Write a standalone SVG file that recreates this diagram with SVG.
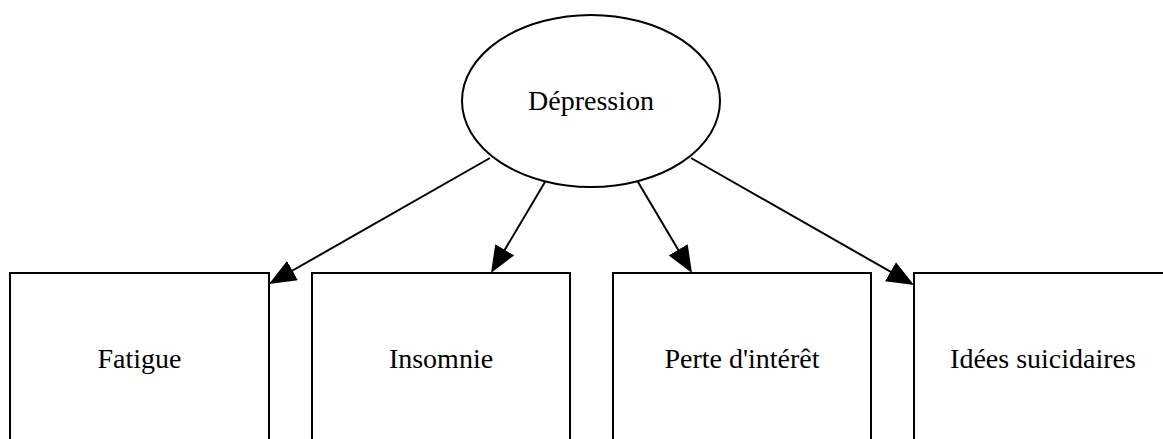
<svg xmlns="http://www.w3.org/2000/svg" width="1163" height="439" viewBox="0 0 1163 439">
<style>
.shape{fill:#fff;stroke:#000;stroke-width:2}
.edge{fill:none;stroke:#000;stroke-width:2}
.lbl{font-family:"Liberation Serif","Times New Roman",serif;font-size:28px;fill:#000;text-anchor:middle}
</style>
<defs>
<marker id="arr" markerUnits="userSpaceOnUse" markerWidth="28" markerHeight="24" refX="17" refY="11" orient="auto">
<path d="M0,0 L27,11 L0,22 z" fill="#000"/>
</marker>
</defs>
<rect width="1163" height="439" fill="#fff"/>
<g id="depression">
<ellipse class="shape" cx="591" cy="101" rx="129" ry="86"/>
<text class="lbl" x="591" y="110">Dépression</text>
</g>
<g id="fatigue">
<rect class="shape" x="10" y="273" width="259" height="200"/>
<text class="lbl" x="139.5" y="368">Fatigue</text>
</g>
<g id="insomnie">
<rect class="shape" x="312" y="273" width="258" height="200"/>
<text class="lbl" x="441" y="368">Insomnie</text>
</g>
<g id="perte">
<rect class="shape" x="613" y="273" width="258" height="200"/>
<text class="lbl" x="742" y="368">Perte d'intérêt</text>
</g>
<g id="idees">
<rect class="shape" x="914" y="273" width="259" height="200"/>
<text class="lbl" x="1043" y="368">Idées suicidaires</text>
</g>
<g id="connectors">
<line class="edge" x1="490" y1="158" x2="277.7" y2="279" marker-end="url(#arr)"/>
<line class="edge" x1="545" y1="182" x2="496.1" y2="264.4" marker-end="url(#arr)"/>
<line class="edge" x1="638" y1="182" x2="686.9" y2="264.4" marker-end="url(#arr)"/>
<line class="edge" x1="691" y1="158" x2="905.3" y2="280.1" marker-end="url(#arr)"/>
</g>
</svg>
